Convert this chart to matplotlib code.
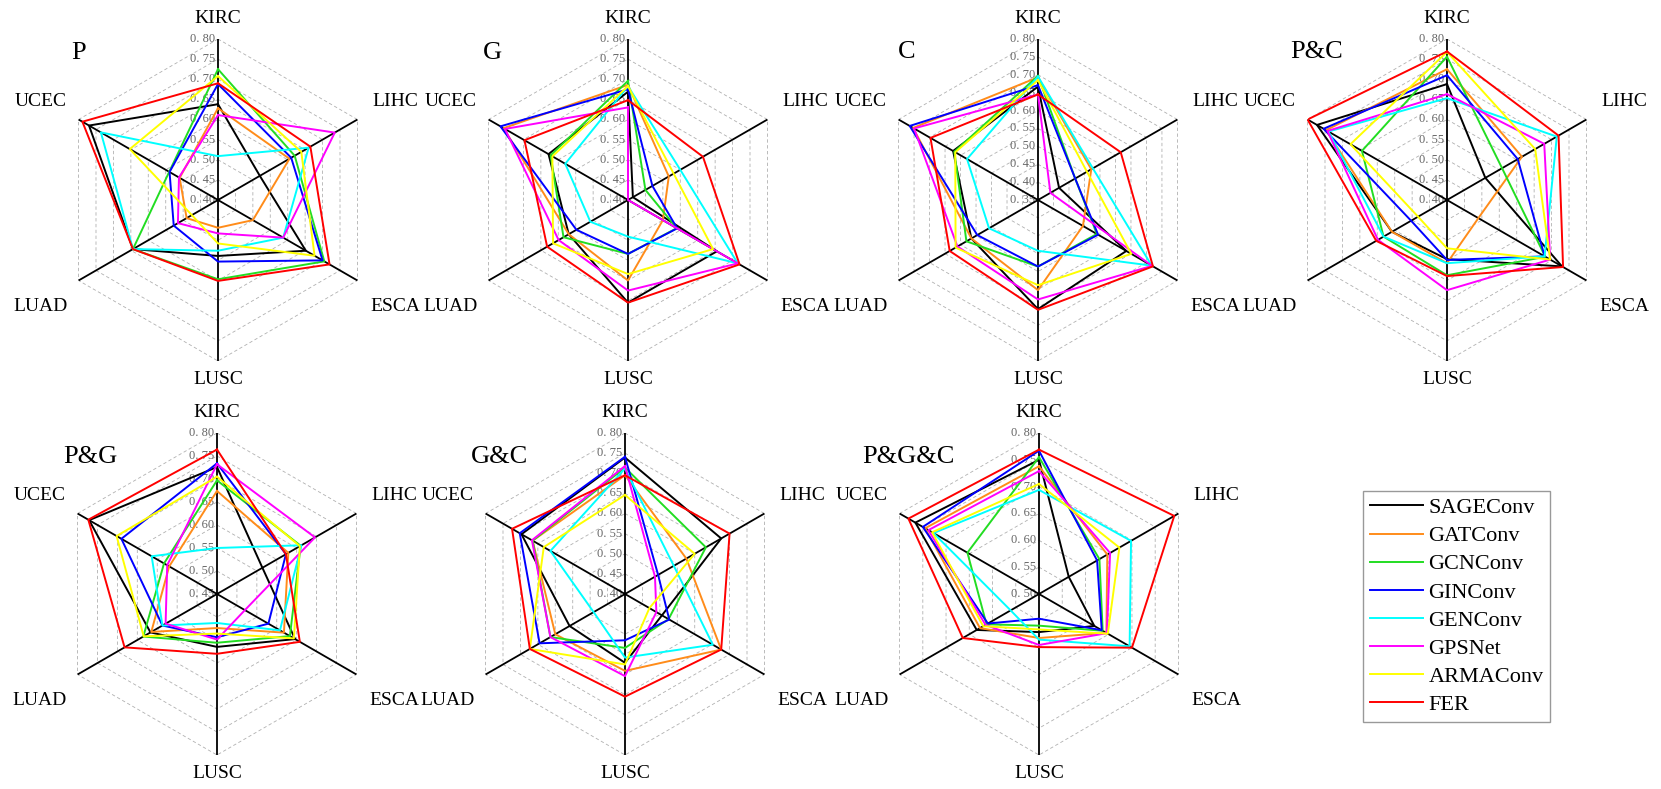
'''Radar charts: AUC of GNN models per cancer type for each feature combination'''
import numpy as np
import matplotlib
matplotlib.use('Agg')
import matplotlib.pyplot as plt
from matplotlib.transforms import offset_copy

plt.rcParams['font.family'] = ['Liberation Serif', 'DejaVu Serif']

CANCERS = ['KIRC', 'LIHC', 'ESCA', 'LUSC', 'LUAD', 'UCEC']
MODELS = ['SAGEConv', 'GATConv', 'GCNConv', 'GINConv', 'GENConv', 'GPSNet', 'ARMAConv', 'FER']
COLORS = ['black', '#ff8c1a', '#22dd22', '#0000ff', '#00ffff', '#ff00ff', '#ffff00', '#ff0000']
PANELS = ['P', 'G', 'C', 'P&C', 'P&G', 'G&C', 'P&G&C']
R_MIN = [0.40, 0.40, 0.35, 0.40, 0.45, 0.40, 0.50]
R_MAX = 0.80

# one row per model, columns follow CANCERS
P = [[0.638, 0.520, 0.652, 0.539, 0.644, 0.770],
     [0.628, 0.605, 0.500, 0.469, 0.490, 0.510],
     [0.725, 0.620, 0.705, 0.597, 0.644, 0.540],
     [0.688, 0.610, 0.700, 0.553, 0.527, 0.539],
     [0.509, 0.660, 0.587, 0.526, 0.644, 0.736],
     [0.611, 0.735, 0.587, 0.483, 0.515, 0.512],
     [0.708, 0.639, 0.677, 0.508, 0.475, 0.653],
     [0.690, 0.665, 0.720, 0.601, 0.644, 0.789]]
G = [[0.669, 0.414, 0.655, 0.655, 0.570, 0.628],
     [0.686, 0.517, 0.500, 0.600, 0.570, 0.757],
     [0.696, 0.450, 0.540, 0.534, 0.585, 0.622],
     [0.675, 0.470, 0.541, 0.534, 0.548, 0.766],
     [0.683, 0.550, 0.715, 0.491, 0.508, 0.580],
     [0.630, 0.400, 0.715, 0.625, 0.599, 0.753],
     [0.683, 0.531, 0.644, 0.584, 0.615, 0.617],
     [0.648, 0.615, 0.720, 0.655, 0.632, 0.697]]
C = [[0.667, 0.418, 0.635, 0.655, 0.565, 0.624],
     [0.693, 0.522, 0.495, 0.602, 0.565, 0.753],
     [0.697, 0.470, 0.540, 0.536, 0.581, 0.620],
     [0.671, 0.470, 0.544, 0.536, 0.546, 0.764],
     [0.695, 0.527, 0.717, 0.492, 0.508, 0.579],
     [0.645, 0.390, 0.718, 0.628, 0.610, 0.750],
     [0.685, 0.508, 0.651, 0.588, 0.616, 0.617],
     [0.645, 0.617, 0.721, 0.657, 0.635, 0.697]]
P_C = [[0.688, 0.510, 0.730, 0.547, 0.558, 0.773],
       [0.725, 0.615, 0.490, 0.557, 0.558, 0.747],
       [0.756, 0.558, 0.682, 0.587, 0.582, 0.644],
       [0.710, 0.603, 0.680, 0.549, 0.503, 0.754],
       [0.653, 0.715, 0.680, 0.557, 0.582, 0.740],
       [0.663, 0.679, 0.696, 0.624, 0.598, 0.743],
       [0.768, 0.653, 0.696, 0.520, 0.483, 0.677],
       [0.769, 0.720, 0.733, 0.589, 0.603, 0.800]]
P_G = [[0.726, 0.564, 0.646, 0.565, 0.617, 0.771],
       [0.674, 0.629, 0.618, 0.524, 0.615, 0.570],
       [0.697, 0.660, 0.633, 0.556, 0.635, 0.583],
       [0.734, 0.623, 0.579, 0.544, 0.587, 0.690],
       [0.550, 0.662, 0.608, 0.513, 0.587, 0.614],
       [0.732, 0.696, 0.520, 0.549, 0.579, 0.575],
       [0.705, 0.658, 0.643, 0.536, 0.634, 0.702],
       [0.764, 0.623, 0.658, 0.580, 0.682, 0.773]]
G_C = [[0.739, 0.676, 0.506, 0.571, 0.559, 0.697],
       [0.695, 0.576, 0.676, 0.591, 0.600, 0.665],
       [0.714, 0.632, 0.525, 0.534, 0.614, 0.665],
       [0.741, 0.495, 0.527, 0.515, 0.645, 0.702],
       [0.712, 0.540, 0.652, 0.558, 0.490, 0.614],
       [0.718, 0.486, 0.490, 0.604, 0.614, 0.667],
       [0.646, 0.600, 0.470, 0.575, 0.673, 0.633],
       [0.695, 0.700, 0.676, 0.655, 0.673, 0.724]]
P_G_C = [[0.750, 0.564, 0.619, 0.571, 0.634, 0.766],
         [0.738, 0.647, 0.645, 0.582, 0.627, 0.745],
         [0.755, 0.630, 0.637, 0.559, 0.613, 0.654],
         [0.767, 0.625, 0.635, 0.546, 0.610, 0.750],
         [0.694, 0.698, 0.695, 0.585, 0.561, 0.727],
         [0.729, 0.653, 0.646, 0.595, 0.615, 0.738],
         [0.705, 0.673, 0.648, 0.566, 0.620, 0.730],
         [0.769, 0.791, 0.700, 0.599, 0.664, 0.781]]
PANEL_DATA = [P, G, C, P_C, P_G, G_C, P_G_C]

# layout in pixels
W, H = 1661, 789
RAD = 161
CENTERS = [(218, 200), (628, 200), (1038, 200), (1447, 200),
           (217, 594), (625, 594), (1039, 594)]
TITLE_OFFSETS = [(-139, -147), (-136, -147), (-131, -148), (-130, -148),
                 (-127, -137), (-125, -137), (-131, -137)]
LABEL_DIST = [1.15, 1.27, 1.27, 1.09, 1.27, 1.27]


def radar(fig, idx):
    '''Draw one hexagonal radar panel'''
    cx, cy = CENTERS[idx]
    rmin = R_MIN[idx]
    ax = fig.add_axes([(cx - RAD) / W, (H - cy - RAD) / H, 2 * RAD / W, 2 * RAD / H],
                      projection='polar')
    ax.set_theta_zero_location('N')
    ax.set_theta_direction(-1)
    ax.set_ylim(rmin, R_MAX)
    ax.grid(False)
    ax.set_xticks([])
    ax.set_yticks([])
    ax.spines['polar'].set_visible(False)
    ax.patch.set_visible(False)

    theta = np.deg2rad(np.arange(0, 360, 60))
    closed = np.append(theta, theta[0])
    levels = np.round(np.arange(rmin, R_MAX + 1e-9, 0.05), 2)
    for lev in levels[1:]:
        ax.plot(closed, [lev] * 7, ls=(0, (4, 3)), color='#b0b0b0', lw=0.6, zorder=1)
    for t in theta:
        ax.plot([t, t], [rmin, R_MAX], color='black', lw=1.3, zorder=2)

    trans = offset_copy(ax.transData, fig=fig, x=-3, y=0, units='dots')
    for lev in levels:
        ax.text(0, lev, f'{lev:.2f}'.replace('.', '. '), transform=trans,
                ha='right', va='center', fontsize=9, color='#666666', zorder=1)

    for vals, color, name in zip(PANEL_DATA[idx], COLORS, MODELS):
        ax.plot(closed, vals + [vals[0]], color=color, lw=1.4, label=name, zorder=3)

    lab_trans = offset_copy(ax.transData, fig=fig, x=0, y=-4, units='dots')
    for t, name, dist in zip(theta, CANCERS, LABEL_DIST):
        ax.text(t, rmin + dist * (R_MAX - rmin), name, transform=lab_trans,
                ha='center', va='center', fontsize=14, clip_on=False)

    dx, dy = TITLE_OFFSETS[idx]
    ax.text(0.5 + dx / (2 * RAD), 0.5 - dy / (2 * RAD), PANELS[idx],
            transform=ax.transAxes, ha='center', va='center', fontsize=19)
    return ax


fig = plt.figure(figsize=(W / 100, H / 100), dpi=100)
axes = [radar(fig, i) for i in range(len(PANELS))]
handles, labels = axes[0].get_legend_handles_labels()
leg = fig.legend(handles, labels, loc='upper left', bbox_to_anchor=(1363 / W, 1 - 491 / H),
                 fontsize=16, frameon=True, fancybox=False, edgecolor='#808080',
                 handlelength=2.4, handletextpad=0.25, labelspacing=0.34,
                 borderpad=0.3, borderaxespad=0)
leg.get_frame().set_linewidth(1.0)
fig.savefig('out.png', dpi=100)
